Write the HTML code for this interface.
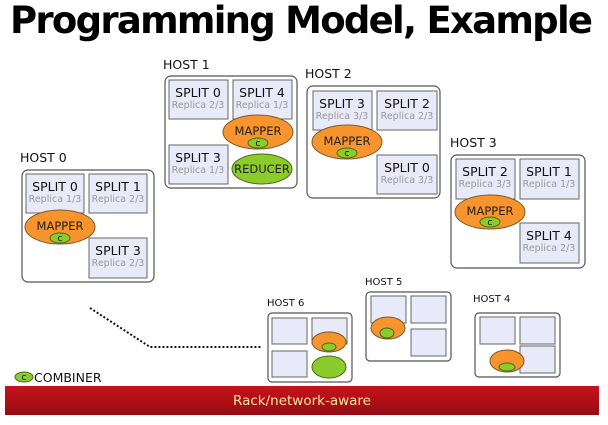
<!DOCTYPE html>
<html><head><meta charset="utf-8"><style>
html,body{margin:0;padding:0;background:#fff;}
svg{display:block;font-family:"DejaVu Sans","Liberation Sans",sans-serif;}
.b{fill:#fff;stroke:#555;stroke-width:1.2}
.s{fill:#e8e9f9;stroke:#666;stroke-width:1}
.t{font-size:12.5px;fill:#111;text-anchor:middle}
.r{font-size:9.5px;fill:#999;text-anchor:middle}
.h{font-size:12.5px;fill:#111}
.hs{font-size:10px;fill:#111}
.o{fill:#f7942d;stroke:#7a5a2a;stroke-width:1}
.g{fill:#8ccb2c;stroke:#4a6a1a;stroke-width:1}
.m{font-size:11.5px;fill:#222;text-anchor:middle}
</style></head><body>
<svg width="608" height="425" viewBox="0 0 608 425">
<defs>
<linearGradient id="rd" x1="0" y1="0" x2="0" y2="1"><stop offset="0" stop-color="#c8121c"/><stop offset="1" stop-color="#960c12"/></linearGradient>
</defs>
<text x="10" y="33" font-size="37" font-weight="bold" textLength="583" lengthAdjust="spacing" fill="#000">Programming Model, Example</text>

<!-- HOST 0 -->
<text class="h" x="20" y="162">HOST 0</text>
<rect class="b" x="22" y="170" width="132" height="112" rx="6"/>
<rect class="s" x="26" y="174" width="58" height="39"/><text class="t" x="55" y="191">SPLIT 0</text><text class="r" x="55" y="202">Replica 1/3</text>
<rect class="s" x="89" y="174" width="58" height="39"/><text class="t" x="118" y="191">SPLIT 1</text><text class="r" x="118" y="202">Replica 2/3</text>
<rect class="s" x="89" y="238" width="58" height="40"/><text class="t" x="118" y="255">SPLIT 3</text><text class="r" x="118" y="266">Replica 2/3</text>
<ellipse class="o" cx="60" cy="227" rx="35" ry="17"/><text class="m" x="60" y="230">MAPPER</text>
<ellipse class="g" cx="60" cy="238" rx="10" ry="5"/><text x="60" y="241" font-size="7" text-anchor="middle">C</text>

<!-- HOST 1 -->
<text class="h" x="163" y="69">HOST 1</text>
<rect class="b" x="165" y="76" width="132" height="112" rx="6"/>
<rect class="s" x="169" y="80" width="59" height="39"/><text class="t" x="198" y="97">SPLIT 0</text><text class="r" x="198" y="108">Replica 2/3</text>
<rect class="s" x="233" y="80" width="59" height="39"/><text class="t" x="262" y="97">SPLIT 4</text><text class="r" x="262" y="108">Replica 1/3</text>
<rect class="s" x="169" y="145" width="59" height="39"/><text class="t" x="198" y="162">SPLIT 3</text><text class="r" x="198" y="173">Replica 1/3</text>
<ellipse class="o" cx="258" cy="132" rx="35" ry="17"/><text class="m" x="258" y="135">MAPPER</text>
<ellipse class="g" cx="258" cy="143" rx="10" ry="5"/><text x="258" y="146" font-size="7" text-anchor="middle">C</text>
<ellipse class="g" cx="262" cy="169" rx="30" ry="15"/><text class="m" x="262" y="173">REDUCER</text>

<!-- HOST 2 -->
<text class="h" x="305" y="78">HOST 2</text>
<rect class="b" x="307" y="86" width="133" height="112" rx="6"/>
<rect class="s" x="313" y="91" width="59" height="39"/><text class="t" x="342" y="108">SPLIT 3</text><text class="r" x="342" y="119">Replica 3/3</text>
<rect class="s" x="377" y="91" width="60" height="39"/><text class="t" x="407" y="108">SPLIT 2</text><text class="r" x="407" y="119">Replica 2/3</text>
<rect class="s" x="377" y="155" width="60" height="39"/><text class="t" x="407" y="172">SPLIT 0</text><text class="r" x="407" y="183">Replica 3/3</text>
<ellipse class="o" cx="347" cy="142" rx="35" ry="17"/><text class="m" x="347" y="145">MAPPER</text>
<ellipse class="g" cx="347" cy="153" rx="10" ry="5"/><text x="347" y="156" font-size="7" text-anchor="middle">C</text>

<!-- HOST 3 -->
<text class="h" x="450" y="147">HOST 3</text>
<rect class="b" x="451" y="155" width="134" height="113" rx="6"/>
<rect class="s" x="456" y="159" width="59" height="40"/><text class="t" x="485" y="176">SPLIT 2</text><text class="r" x="485" y="187">Replica 3/3</text>
<rect class="s" x="520" y="159" width="59" height="40"/><text class="t" x="549" y="176">SPLIT 1</text><text class="r" x="549" y="187">Replica 1/3</text>
<rect class="s" x="520" y="223" width="59" height="40"/><text class="t" x="549" y="240">SPLIT 4</text><text class="r" x="549" y="251">Replica 2/3</text>
<ellipse class="o" cx="490" cy="212" rx="35" ry="17"/><text class="m" x="490" y="215">MAPPER</text>
<ellipse class="g" cx="490" cy="222" rx="10" ry="5"/><text x="490" y="225" font-size="7" text-anchor="middle">C</text>

<!-- HOST 6 -->
<text class="hs" x="267" y="306">HOST 6</text>
<rect class="b" x="268" y="313" width="84" height="69" rx="4"/>
<rect class="s" x="272" y="318" width="35" height="26"/>
<rect class="s" x="312" y="318" width="35" height="26"/>
<rect class="s" x="272" y="351" width="35" height="26"/>
<ellipse class="o" cx="329" cy="342" rx="17" ry="10"/>
<ellipse class="g" cx="329" cy="347" rx="7" ry="4"/>
<ellipse class="g" cx="329" cy="367" rx="17" ry="11"/>

<!-- HOST 5 -->
<text class="hs" x="365" y="285">HOST 5</text>
<rect class="b" x="366" y="292" width="85" height="69" rx="4"/>
<rect class="s" x="371" y="296" width="35" height="27"/>
<rect class="s" x="411" y="296" width="35" height="27"/>
<rect class="s" x="411" y="329" width="35" height="27"/>
<ellipse class="o" cx="388" cy="328" rx="17" ry="11"/>
<ellipse class="g" cx="387" cy="333" rx="7" ry="5"/>

<!-- HOST 4 -->
<text class="hs" x="473" y="302">HOST 4</text>
<rect class="b" x="475" y="313" width="85" height="64" rx="4"/>
<rect class="s" x="480" y="317" width="35" height="27"/>
<rect class="s" x="520" y="317" width="35" height="27"/>
<rect class="s" x="520" y="346" width="35" height="27"/>
<ellipse class="o" cx="507" cy="361" rx="17" ry="11"/>
<ellipse class="g" cx="507" cy="367" rx="8" ry="4"/>

<!-- dotted -->
<polyline points="90,308 150,347 262,347" fill="none" stroke="#111" stroke-width="2" stroke-dasharray="2,2"/>

<!-- legend -->
<ellipse class="g" cx="24" cy="377" rx="9" ry="5"/><text x="24" y="380" font-size="7" text-anchor="middle">C</text>
<text x="34" y="382" font-size="12.5" fill="#111">COMBINER</text>

<rect x="5" y="386" width="594" height="29" fill="url(#rd)"/>
<text x="302" y="405" font-size="13.5" fill="#f6e6a0" text-anchor="middle">Rack/network-aware</text>
</svg>
</body></html>
